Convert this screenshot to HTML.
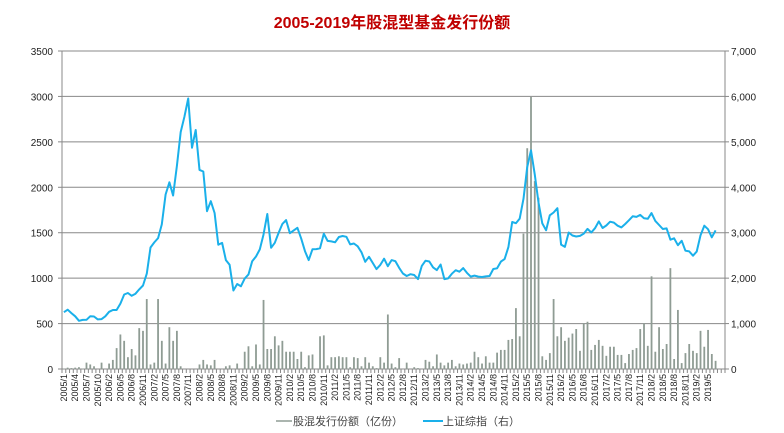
<!DOCTYPE html>
<html><head><meta charset="utf-8"><style>
body{margin:0;background:#fff;}
svg{display:block;font-family:"Liberation Sans","Noto Sans CJK SC",sans-serif;}
</style></head><body>
<svg id="c" width="784" height="433">
<text x="392" y="28" text-anchor="middle" font-size="16" font-weight="bold" fill="#c00000">2005-2019年股混型基金发行份额</text>
<g id="grid"></g>
<g id="bars"></g>
<g id="line"></g>
<g id="axes"></g>
<g>
<line x1="276" y1="421" x2="292" y2="421" stroke="#8f9c94" stroke-width="1.5"/>
<text x="293" y="425" font-size="11" fill="#444">股混发行份额（亿份）</text>
<line x1="423" y1="421" x2="443" y2="421" stroke="#1ab0ea" stroke-width="2"/>
<text x="443" y="425" font-size="11" fill="#444">上证综指（右）</text>
</g>
</svg>
<script>
const leftTicks=[0,500,1000,1500,2000,2500,3000,3500];
const rightTicks=["0","1,000","2,000","3,000","4,000","5,000","6,000","7,000"];
const xLabels=["2005/1","2005/4","2005/7","2005/10","2006/2","2006/5","2006/8","2006/11","2007/2","2007/5","2007/8","2007/11","2008/2","2008/5","2008/8","2008/11","2009/2","2009/5","2009/8","2009/11","2010/2","2010/5","2010/8","2010/11","2011/2","2011/5","2011/8","2011/11","2012/2","2012/5","2012/8","2012/11","2013/2","2013/5","2013/8","2013/11","2014/2","2014/5","2014/8","2014/11","2015/2","2015/5","2015/8","2015/11","2016/2","2016/5","2016/8","2016/11","2017/2","2017/5","2017/8","2017/11","2018/2","2018/5","2018/8","2018/11","2019/2","2019/5"];
const fundIssuance=[5,15,10,15,20,5,70,50,30,0,70,0,60,100,230,380,310,130,220,150,450,420,770,50,70,770,310,60,460,310,420,30,0,0,0,0,50,100,50,40,100,0,0,30,40,0,60,0,190,250,30,270,50,760,220,220,360,260,310,190,190,190,110,190,20,150,160,0,360,370,40,130,130,140,130,130,20,130,120,30,130,70,30,10,130,70,600,60,20,120,0,70,0,20,10,0,100,80,30,160,70,40,70,100,30,60,50,60,70,190,130,60,140,70,70,180,210,210,320,330,670,360,1490,2430,2995,2068,1885,140,100,175,770,360,460,310,345,390,440,200,505,520,210,265,320,255,145,245,245,155,155,65,165,210,230,440,505,255,1020,190,460,220,275,1110,110,650,65,175,275,200,175,420,245,430,165,90,0,0];
const sseIndex=[1250,1306,1230,1159,1060,1080,1083,1162,1155,1092,1099,1161,1259,1299,1298,1440,1641,1672,1612,1658,1752,1837,2099,2675,2786,2881,3183,3841,4109,3820,4471,5218,5552,5954,4871,5262,4383,4348,3473,3693,3433,2736,2775,2397,2293,1729,1871,1821,1991,2082,2373,2477,2632,2959,3412,2667,2779,2996,3195,3277,2989,3051,3109,2870,2592,2398,2638,2639,2656,2979,2820,2808,2790,2905,2928,2911,2743,2762,2701,2568,2359,2469,2333,2199,2292,2428,2263,2397,2373,2226,2103,2047,2086,2069,1980,2269,2385,2366,2237,2178,2301,1979,1994,2098,2175,2141,2220,2116,2033,2056,2033,2026,2039,2048,2202,2217,2364,2420,2683,3235,3210,3310,3748,4442,4812,4277,3664,3206,3053,3383,3445,3539,2738,2688,3004,2938,2917,2930,2979,3085,3005,3100,3250,3104,3159,3242,3223,3155,3117,3192,3273,3361,3349,3393,3317,3307,3431,3259,3169,3082,3095,2847,2876,2725,2821,2603,2588,2494,2585,2941,3154,3078,2899,3050];
const NS="http://www.w3.org/2000/svg";
const L=62,R=725,T=51,B=369;
const N=fundIssuance.length;
const bw=(R-L)/N;
function xc(i){return L+(i+0.5)*bw;}
function yl(v){return B-(v/3500)*(B-T);}
function yr(v){return B-(v/7000)*(B-T);}
function mk(tag,attrs,parent){const e=document.createElementNS(NS,tag);for(const k in attrs)e.setAttribute(k,attrs[k]);parent.appendChild(e);return e;}
const grid=document.getElementById('grid'),axes=document.getElementById('axes');
leftTicks.forEach((v,i)=>{
  const y=yl(v);
  const g=mk('line',{x1:L,x2:R,y1:y,y2:y,stroke:'#888','stroke-width':1},grid);
  
  
  const t=mk('text',{x:53,y:y+4,'text-anchor':'end','font-size':10,fill:'#222'},axes);
  t.textContent=v;
  
  
  const t2=mk('text',{x:731,y:y+4,'font-size':10,fill:'#222'},axes);
  t2.textContent=rightTicks[i];
  
  
  const tk=mk('line',{x1:R,x2:R+4,y1:y,y2:y,stroke:'#888'},axes);
  
  
  const tk2=mk('line',{x1:L-4,x2:L,y1:y,y2:y,stroke:'#888'},axes);
  
  
});
const la=mk('line',{x1:L,x2:L,y1:T,y2:B,stroke:'#888'},axes);


const ra=mk('line',{x1:R,x2:R,y1:T,y2:B,stroke:'#888'},axes);


for(let i=0;i<=N;i++){
  const x=L+i*bw;
  const tk=mk('line',{x1:x,x2:x,y1:B,y2:B+4,stroke:'#888'},axes);
  
  
}
xLabels.forEach((s,k)=>{
  const x=xc(k*3)+3;
  const t=mk('text',{x:0,y:0,'text-anchor':'end','font-size':9,fill:'#222',transform:`translate(${x},${B+5}) rotate(-90)`},axes);
  t.textContent=s;
  
  
});
const bars=document.getElementById('bars');
fundIssuance.forEach((v,i)=>{
  if(v<=0)return;
  const y=yl(v);
  const r=mk('rect',{x:xc(i)-0.9,y:y,width:1.8,height:B-y,fill:'#8f9c94'},bars);
  
  
});
const pts=sseIndex.map((v,i)=>xc(i).toFixed(1)+','+yr(v).toFixed(1)).join(' ');
const pl=mk('polyline',{points:pts,fill:'none',stroke:'#1ab0ea','stroke-width':2,'stroke-linejoin':'round'},document.getElementById('line'));


</script>
</body></html>
